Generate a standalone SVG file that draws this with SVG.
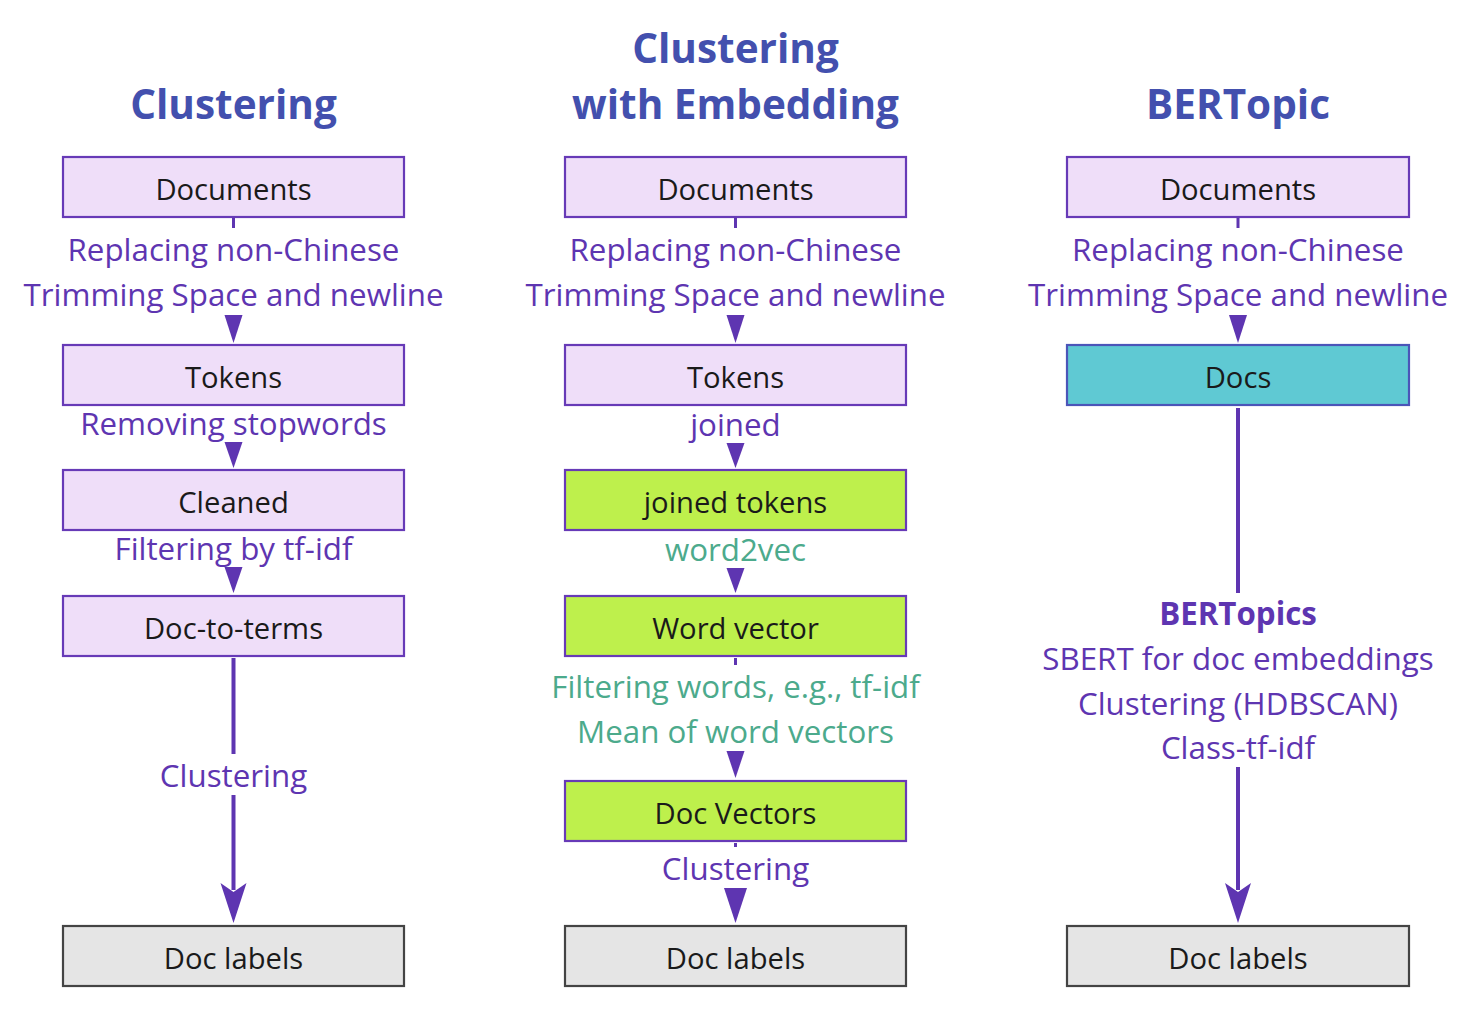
<svg xmlns="http://www.w3.org/2000/svg" width="1476" height="1032" viewBox="0 0 1476 1032">
<style>
text{font-family:"Open Sans","Noto Sans","DejaVu Sans",sans-serif;text-anchor:middle;dominant-baseline:central}
.title{font-size:40.5px;font-weight:700;fill:#4350AE}
.box{stroke-width:2.2}
.p{fill:#EFDEF9;stroke:#673AB7}
.g{fill:#BEF04C;stroke:#673AB7}
.c{fill:#5FC9D3;stroke:#4B55B8}
.x{fill:#E5E5E5;stroke:#444444}
.bt{font-size:29.2px;fill:#1a1a1a}
.lb{font-size:31.3px;fill:#5E35B1}
.lg{font-size:31.3px;fill:#4CAA8C}
.lbb{font-size:31.3px;fill:#5E35B1;font-weight:700}
.ln{stroke:#5E35B1;stroke-width:3;fill:none}
.lnb{stroke:#5E35B1;stroke-width:4;fill:none}
.ah{fill:#5E35B1}
</style>
<g id="titles">
<text class="title" x="233.5" y="103">Clustering</text>
<text class="title" x="735.5" y="47">Clustering</text>
<text class="title" x="735.5" y="103">with Embedding</text>
<text class="title" x="1238" y="103">BERTopic</text>
</g>
<g id="connectors">
<!-- left column -->
<path class="ln" d="M233.5 218V228"/>
<polygon class="ah" points="224.5,315 242.5,315 233.5,343"/>
<polygon class="ah" points="224.5,442 242.5,442 233.5,468"/>
<polygon class="ah" points="224.5,567 242.5,567 233.5,593"/>
<path class="lnb" d="M233.5 658V754M233.5 795V890"/>
<polygon class="ah" points="220.5,883 233.5,892 246.5,883 233.5,923"/>
<!-- middle column -->
<path class="ln" d="M735.5 218V228"/>
<polygon class="ah" points="726.5,315 744.5,315 735.5,343"/>
<polygon class="ah" points="726.5,443 744.5,443 735.5,468"/>
<polygon class="ah" points="726.5,568 744.5,568 735.5,593"/>
<path class="ln" d="M735.5 658V665"/>
<polygon class="ah" points="726.5,751 744.5,751 735.5,778"/>
<path class="ln" d="M735.5 843V847"/>
<polygon class="ah" points="724,888 747,888 735.5,923"/>
<!-- right column -->
<path class="ln" d="M1238 218V228"/>
<polygon class="ah" points="1229,315 1247,315 1238,343"/>
<path class="lnb" d="M1238 408V593M1238 767V890"/>
<polygon class="ah" points="1225,883 1238,892 1251,883 1238,923"/>
</g>
<g id="edge-labels">
<text class="lb" x="233.5" y="249">Replacing non-Chinese</text>
<text class="lb" x="233.5" y="294">Trimming Space and newline</text>
<text class="lb" x="233.5" y="423">Removing stopwords</text>
<text class="lb" x="233.5" y="548">Filtering by tf-idf</text>
<text class="lb" x="233.5" y="775">Clustering</text>
<text class="lb" x="735.5" y="249">Replacing non-Chinese</text>
<text class="lb" x="735.5" y="294">Trimming Space and newline</text>
<text class="lb" x="735.5" y="424">joined</text>
<text class="lg" x="735.5" y="549">word2vec</text>
<text class="lg" x="735.5" y="686">Filtering words, e.g., tf-idf</text>
<text class="lg" x="735.5" y="731">Mean of word vectors</text>
<text class="lb" x="735.5" y="868">Clustering</text>
<text class="lb" x="1238" y="249">Replacing non-Chinese</text>
<text class="lb" x="1238" y="294">Trimming Space and newline</text>
<text class="lbb" x="1238" y="613">BERTopics</text>
<text class="lb" x="1238" y="658">SBERT for doc embeddings</text>
<text class="lb" x="1238" y="703">Clustering (HDBSCAN)</text>
<text class="lb" x="1238" y="747">Class-tf-idf</text>
</g>
<g id="n-l-documents"><rect class="box p" x="63" y="157" width="341" height="60"/><text class="bt" x="233.5" y="188.5">Documents</text></g>
<g id="n-l-tokens"><rect class="box p" x="63" y="345" width="341" height="60"/><text class="bt" x="233.5" y="376.5">Tokens</text></g>
<g id="n-l-cleaned"><rect class="box p" x="63" y="470" width="341" height="60"/><text class="bt" x="233.5" y="501.5">Cleaned</text></g>
<g id="n-l-doc2terms"><rect class="box p" x="63" y="596" width="341" height="60"/><text class="bt" x="233.5" y="627.5">Doc-to-terms</text></g>
<g id="n-l-labels"><rect class="box x" x="63" y="926" width="341" height="60"/><text class="bt" x="233.5" y="957.5">Doc labels</text></g>
<g id="n-m-documents"><rect class="box p" x="565" y="157" width="341" height="60"/><text class="bt" x="735.5" y="188.5">Documents</text></g>
<g id="n-m-tokens"><rect class="box p" x="565" y="345" width="341" height="60"/><text class="bt" x="735.5" y="376.5">Tokens</text></g>
<g id="n-m-joined"><rect class="box g" x="565" y="470" width="341" height="60"/><text class="bt" x="735.5" y="501.5">joined tokens</text></g>
<g id="n-m-wordvec"><rect class="box g" x="565" y="596" width="341" height="60"/><text class="bt" x="735.5" y="627.5">Word vector</text></g>
<g id="n-m-docvec"><rect class="box g" x="565" y="781" width="341" height="60"/><text class="bt" x="735.5" y="812.5">Doc Vectors</text></g>
<g id="n-m-labels"><rect class="box x" x="565" y="926" width="341" height="60"/><text class="bt" x="735.5" y="957.5">Doc labels</text></g>
<g id="n-r-documents"><rect class="box p" x="1067" y="157" width="342" height="60"/><text class="bt" x="1238" y="188.5">Documents</text></g>
<g id="n-r-docs"><rect class="box c" x="1067" y="345" width="342" height="60"/><text class="bt" x="1238" y="376.5">Docs</text></g>
<g id="n-r-labels"><rect class="box x" x="1067" y="926" width="342" height="60"/><text class="bt" x="1238" y="957.5">Doc labels</text></g>
</svg>
